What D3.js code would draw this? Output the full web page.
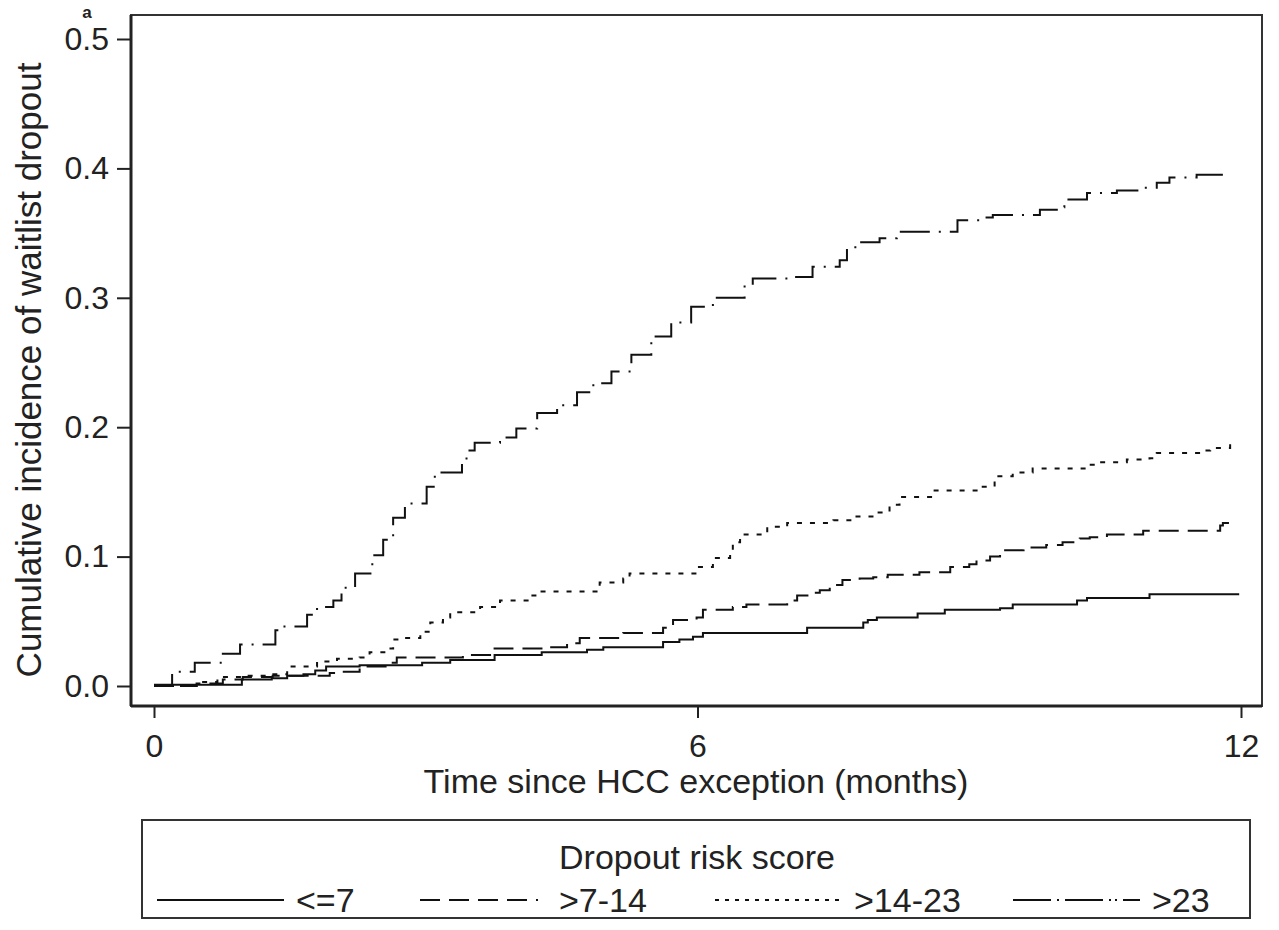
<!DOCTYPE html>
<html>
<head>
<meta charset="utf-8">
<script src="https://cdn.jsdelivr.net/npm/d3@7"></script>
<style>
	body { margin: 0; background: #fff; }
	text { font-family: "Liberation Sans", Arial, sans-serif; fill: #222; }
</style>
</head>
<body>
<svg width="1279" height="930"></svg>
<script>
// cumulative incidence curves, [months, incidence]
var le7 = [[0,0.001],[0.97,0.005],[1.3,0.006],[1.47,0.008],[1.65,0.009],[1.78,0.012],[1.9,0.015],[2.27,0.016],[2.96,0.018],[3.27,0.020],[3.76,0.024],[4.28,0.026],[4.78,0.028],[4.96,0.030],[5.62,0.034],[5.8,0.036],[5.95,0.038],[6.06,0.041],[7.21,0.045],[7.83,0.049],[7.88,0.051],[7.98,0.053],[8.43,0.056],[8.73,0.059],[9.34,0.060],[9.48,0.063],[10.19,0.066],[10.3,0.068],[10.99,0.071],[11.98,0.071]];
var gt7 = [[0,0],[0.47,0.002],[0.76,0.005],[0.98,0.007],[1.31,0.008],[1.94,0.010],[2.08,0.011],[2.27,0.015],[2.6,0.018],[2.68,0.022],[3.41,0.024],[3.71,0.026],[3.76,0.029],[4.29,0.030],[4.56,0.033],[4.7,0.037],[5.18,0.041],[5.62,0.045],[5.73,0.051],[5.99,0.053],[6.06,0.059],[6.39,0.061],[6.54,0.063],[6.99,0.066],[7.1,0.070],[7.24,0.072],[7.35,0.074],[7.46,0.078],[7.6,0.082],[7.79,0.083],[7.94,0.084],[8.1,0.086],[8.45,0.088],[8.79,0.092],[9.0,0.094],[9.08,0.097],[9.23,0.100],[9.34,0.105],[9.6,0.107],[9.85,0.109],[10.03,0.111],[10.22,0.114],[10.33,0.115],[10.52,0.117],[10.92,0.120],[11.77,0.124],[11.8,0.126],[11.88,0.127]];
var gt14 = [[0,0],[0.47,0.003],[0.7,0.007],[0.98,0.008],[1.28,0.009],[1.47,0.015],[1.8,0.019],[2.02,0.021],[2.27,0.022],[2.38,0.026],[2.58,0.029],[2.64,0.036],[2.75,0.037],[2.94,0.042],[3.05,0.049],[3.19,0.053],[3.27,0.057],[3.6,0.061],[3.82,0.066],[4.15,0.070],[4.25,0.073],[4.92,0.080],[5.18,0.083],[5.25,0.087],[5.99,0.092],[6.17,0.099],[6.36,0.103],[6.39,0.111],[6.47,0.117],[6.77,0.123],[6.99,0.126],[7.5,0.128],[7.72,0.131],[7.98,0.134],[8.12,0.140],[8.23,0.146],[8.59,0.151],[9.12,0.154],[9.28,0.162],[9.48,0.165],[9.7,0.168],[10.3,0.171],[10.44,0.173],[10.74,0.175],[10.99,0.176],[11.07,0.180],[11.57,0.182],[11.66,0.184],[11.88,0.188]];
var gt23 = [[0,0],[0.2,0.011],[0.45,0.018],[0.76,0.025],[0.95,0.032],[1.34,0.043],[1.41,0.046],[1.69,0.055],[1.8,0.061],[1.98,0.066],[2.07,0.076],[2.22,0.087],[2.41,0.101],[2.53,0.113],[2.64,0.130],[2.77,0.141],[3.01,0.154],[3.10,0.165],[3.40,0.172],[3.45,0.182],[3.54,0.188],[3.82,0.192],[4.0,0.199],[4.23,0.211],[4.45,0.217],[4.67,0.227],[4.85,0.234],[5.05,0.243],[5.27,0.256],[5.49,0.270],[5.71,0.281],[5.93,0.293],[6.17,0.300],[6.52,0.310],[6.61,0.315],[7.05,0.316],[7.27,0.324],[7.57,0.329],[7.65,0.339],[7.77,0.343],[8.01,0.346],[8.2,0.351],[8.87,0.360],[9.15,0.362],[9.26,0.364],[9.78,0.368],[10.02,0.370],[10.05,0.376],[10.3,0.381],[10.63,0.383],[10.88,0.385],[11.07,0.389],[11.21,0.393],[11.51,0.395],[11.82,0.396]];

var groupNames = ['<=7', '>7-14', '>14-23', '>23'];
var xTicks = [0, 6, 12];
var yTicks = [0, 0.1, 0.2, 0.3, 0.4, 0.5];

var svg = d3.select('svg');
var dashes = ['none', '20,9', '5,8', '30,9,2,9'];
var legendDashes = ['none', '20,9,20,9,20,9,20,9,2,9', '4,6', '38,6,2,6,38,6,2,4,2,6'];
var series = [le7, gt7, gt14, gt23];

var x = d3.scaleLinear().domain([0, 12]).range([154, 1241]);
var y = d3.scaleLinear().domain([0, 0.5]).range([686, 39]);

// plot region frame
svg.append('rect')
	.attr('x', 131).attr('y', 15).attr('width', 1131).attr('height', 691)
	.attr('fill', 'none').attr('stroke', '#333').attr('stroke-width', 2);

var yAxis = svg.append('g').attr('transform', 'translate(131,0)')
	.call(d3.axisLeft(y).tickValues(yTicks).tickFormat(d3.format('.1f')).tickSize(14).tickPadding(8));
var xAxis = svg.append('g').attr('transform', 'translate(0,706)')
	.call(d3.axisBottom(x).tickValues(xTicks).tickFormat(d3.format('d')).tickSize(12).tickPadding(16));

[yAxis, xAxis].forEach(function(a){
	a.select('.domain').attr('stroke', '#222').attr('stroke-width', 3);
	a.selectAll('.tick line').attr('stroke', '#222').attr('stroke-width', 2);
	a.selectAll('.tick text').style('font-family', '"Liberation Sans", Arial, sans-serif')
		.style('font-size', '32px').attr('fill', '#222');
});
// stata puts the domain right on the frame, no outer ticks
yAxis.select('.domain').attr('d', 'M0,15V706');
xAxis.select('.domain').attr('d', 'M131,0H1262');

var line = d3.line()
	.x(function(d){ return x(d[0]); })
	.y(function(d){ return y(d[1]); })
	.curve(d3.curveStepAfter);

svg.selectAll('path.curve').data(series).enter().append('path')
	.attr('class', 'curve')
	.attr('d', line)
	.attr('fill', 'none')
	.attr('stroke', '#111')
	.attr('stroke-width', 2)
	.attr('stroke-dasharray', function(d, i){ return dashes[i]; });

// titles
svg.append('text').attr('x', 696).attr('y', 793).attr('text-anchor', 'middle')
	.style('font-size', '34px').text('Time since HCC exception (months)');
svg.append('text').attr('transform', 'translate(41,370) rotate(-90)').attr('text-anchor', 'middle')
	.style('font-size', '35px').text('Cumulative incidence of waitlist dropout');
svg.append('text').attr('x', 87).attr('y', 18).attr('text-anchor', 'middle')
	.style('font-size', '17px').style('font-weight', 'bold').text('a');

// legend
svg.append('rect').attr('x', 142).attr('y', 820).attr('width', 1108).attr('height', 98)
	.attr('fill', 'none').attr('stroke', '#333').attr('stroke-width', 2);
svg.append('text').attr('x', 697).attr('y', 869).attr('text-anchor', 'middle')
	.style('font-size', '34px').text('Dropout risk score');

var keyX = [157, 420, 715, 1013];
var lg = svg.selectAll('g.key').data(groupNames).enter().append('g').attr('class', 'key');
lg.append('line')
	.attr('x1', function(d, i){ return keyX[i]; })
	.attr('x2', function(d, i){ return keyX[i] + 127; })
	.attr('y1', 900).attr('y2', 900)
	.attr('stroke', '#111').attr('stroke-width', 2)
	.attr('stroke-dasharray', function(d, i){ return legendDashes[i]; });
lg.append('text')
	.attr('x', function(d, i){ return keyX[i] + 139; })
	.attr('y', 912)
	.style('font-size', '34px')
	.text(function(d){ return d; });
</script>
</body>
</html>
